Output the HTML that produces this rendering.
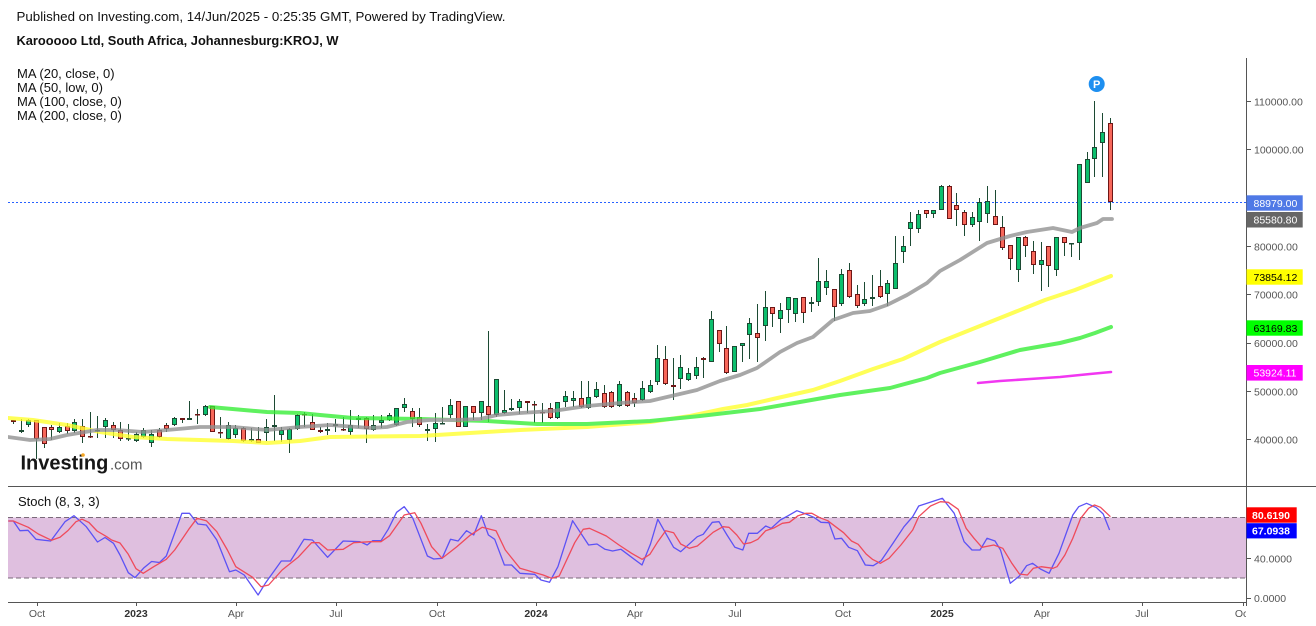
<!DOCTYPE html>
<html><head><meta charset="utf-8"><style>
html,body{margin:0;padding:0;background:#fff;}
svg{display:block;font-family:"Liberation Sans",Arial,sans-serif;}
</style></head><body>
<svg width="1316" height="626" viewBox="0 0 1316 626" xmlns="http://www.w3.org/2000/svg">
<rect width="1316" height="626" fill="#fff"/>
<defs>
<clipPath id="mc"><rect x="8" y="58" width="1238" height="428"/></clipPath>
<clipPath id="sc"><rect x="8" y="487" width="1238" height="115"/></clipPath>
<clipPath id="ac"><rect x="1247" y="487" width="69" height="115"/></clipPath>
<clipPath id="xc"><rect x="0" y="600" width="1246" height="26"/></clipPath>
</defs>

<!-- header -->
<text x="16.5" y="21" font-size="13" fill="#111" textLength="489" lengthAdjust="spacingAndGlyphs">Published on Investing.com, 14/Jun/2025 - 0:25:35 GMT, Powered by TradingView.</text>
<text x="16.5" y="45" font-size="13" font-weight="bold" fill="#111" textLength="322" lengthAdjust="spacingAndGlyphs">Karooooo Ltd, South Africa, Johannesburg:KROJ, W</text>
<g font-size="13" fill="#111">
<text x="17" y="78">MA (20, close, 0)</text>
<text x="17" y="92">MA (50, low, 0)</text>
<text x="17" y="106">MA (100, close, 0)</text>
<text x="17" y="120">MA (200, close, 0)</text>
</g>

<!-- main pane -->
<g clip-path="url(#mc)">
<line x1="8" y1="202.5" x2="1246" y2="202.5" stroke="#2962ff" stroke-width="1" stroke-dasharray="2,2"/>

<path fill="none" stroke="#1c4a33" stroke-width="1" d="M13.5 420V424M21.5 419V433M28.5 419V427M36.5 420V459M44.5 427V448M51.5 425V440M59.5 423V433M67.5 423V434M74.5 419V433M82.5 419V443M90.5 412V438M97.5 416V438M105.5 418V438M113.5 422V438M120.5 422V441M128.5 424V441M136.5 432V442M143.5 428V438M151.5 430V447M159.5 428V438M166.5 423V432M174.5 417V426M182.5 418V423M189.5 401V420M197.5 409V424M205.5 405V416M212.5 406V432M220.5 417V438M228.5 422V440M235.5 425V438M243.5 427V442M251.5 428V442M258.5 427V443M266.5 419V441M274.5 395V441M281.5 427V442M289.5 428V453M297.5 414V430M304.5 412V427M312.5 414V430M320.5 427V433M327.5 423V435M335.5 419V432M343.5 417V431M350.5 410V435M358.5 415V428M366.5 417V443M373.5 415V431M381.5 415V428M389.5 413V421M396.5 408V426M404.5 398V412M412.5 408V427M419.5 408V427M427.5 424V441M435.5 413V442M442.5 407V424M450.5 399V418M458.5 401V427M465.5 406V427M473.5 406V420M481.5 401V420M488.5 331V422M496.5 379V417M504.5 390V414M511.5 399V411M519.5 399V414M527.5 401V413M534.5 401V423M542.5 403V423M550.5 403V419M557.5 402V419M565.5 391V407M573.5 391V407M581.5 381V408M588.5 381V409M596.5 382V398M604.5 385V408M611.5 391V408M619.5 381V407M627.5 391V407M634.5 393V407M642.5 381V401M650.5 380V393M657.5 345V385M665.5 346V385M673.5 358V400M680.5 355V389M688.5 368V381M696.5 357V379M703.5 357V378M711.5 311V362M719.5 330V352M726.5 326V374M734.5 346V372M742.5 343V362M749.5 318V359M757.5 304V362M765.5 291V341M772.5 307V327M780.5 303V333M788.5 297V323M795.5 298V322M803.5 297V323M811.5 297V312M818.5 258V306M826.5 270V295M834.5 289V321M841.5 269V306M849.5 263V298M857.5 285V308M864.5 282V306M872.5 275V306M880.5 270V298M887.5 280V306M895.5 236V289M903.5 236V263M910.5 212V246M918.5 210V233M926.5 210V218M933.5 210V218M941.5 185V210M949.5 185V219M956.5 193V226M964.5 210V236M972.5 212V227M979.5 198V241M987.5 186V223M995.5 190V225M1002.5 216V250M1010.5 245V270M1018.5 237V282M1025.5 236V257M1033.5 241V274M1041.5 242V291M1048.5 246V287M1056.5 237V276M1064.5 237V256M1071.5 243V257M1079.5 164V260M1087.5 152V183M1094.5 101V177M1102.5 113V177M1110.5 118V210"/>

<path fill="#0cbf6d" stroke="#1c4a33" stroke-width="1" d="M19.5 430.5h4v1h-4zM26.5 420.5h4v4h-4zM57.5 427.5h4v4h-4zM72.5 422.5h4v8h-4zM95.5 430.5h4v0.5h-4zM103.5 420.5h4v6h-4zM126.5 438.5h4v0.5h-4zM134.5 434.5h4v6h-4zM141.5 430.5h4v6h-4zM149.5 434.5h4v8h-4zM172.5 418.5h4v6h-4zM187.5 418.5h4v1h-4zM203.5 406.5h4v8h-4zM226.5 425.5h4v13h-4zM233.5 428.5h4v6h-4zM249.5 439.5h4v1h-4zM264.5 427.5h4v5h-4zM272.5 425.5h4v1h-4zM279.5 430.5h4v4h-4zM287.5 429.5h4v10h-4zM295.5 415.5h4v13h-4zM325.5 429.5h4v1h-4zM333.5 424.5h4v1h-4zM348.5 425.5h4v6h-4zM356.5 418.5h4v1h-4zM371.5 425.5h4v4h-4zM379.5 420.5h4v2h-4zM387.5 415.5h4v4h-4zM394.5 408.5h4v16h-4zM402.5 404.5h4v3h-4zM425.5 429.5h4v1h-4zM433.5 423.5h4v5h-4zM440.5 423.5h4v0.5h-4zM448.5 405.5h4v9h-4zM463.5 406.5h4v20h-4zM479.5 401.5h4v11h-4zM494.5 379.5h4v35h-4zM502.5 410.5h4v2h-4zM509.5 408.5h4v1h-4zM517.5 401.5h4v6h-4zM555.5 402.5h4v15h-4zM563.5 396.5h4v5h-4zM571.5 398.5h4v2h-4zM586.5 397.5h4v10h-4zM594.5 389.5h4v7h-4zM617.5 384.5h4v21h-4zM640.5 388.5h4v11h-4zM648.5 385.5h4v6h-4zM655.5 358.5h4v23h-4zM678.5 367.5h4v11h-4zM686.5 373.5h4v6h-4zM694.5 367.5h4v8h-4zM709.5 319.5h4v42h-4zM732.5 346.5h4v25h-4zM740.5 343.5h4v2h-4zM747.5 323.5h4v11h-4zM763.5 307.5h4v18h-4zM778.5 310.5h4v8h-4zM786.5 297.5h4v12h-4zM793.5 298.5h4v15h-4zM809.5 302.5h4v1h-4zM816.5 281.5h4v20h-4zM824.5 281.5h4v6h-4zM839.5 274.5h4v29h-4zM862.5 299.5h4v4h-4zM870.5 297.5h4v1h-4zM885.5 283.5h4v10h-4zM893.5 263.5h4v25h-4zM901.5 246.5h4v5h-4zM908.5 222.5h4v6h-4zM916.5 214.5h4v14h-4zM931.5 210.5h4v3h-4zM939.5 186.5h4v23h-4zM970.5 217.5h4v7h-4zM977.5 202.5h4v19h-4zM985.5 201.5h4v12h-4zM1016.5 237.5h4v32h-4zM1039.5 260.5h4v4h-4zM1054.5 237.5h4v32h-4zM1069.5 243.5h4v0.5h-4zM1077.5 164.5h4v78h-4zM1085.5 159.5h4v23h-4zM1092.5 147.5h4v11h-4zM1100.5 132.5h4v10h-4z"/>

<path fill="#f7675a" stroke="#6e1616" stroke-width="1" d="M11.5 420.5h4v1h-4zM34.5 420.5h4v18h-4zM42.5 427.5h4v16h-4zM49.5 427.5h4v2h-4zM65.5 426.5h4v4h-4zM80.5 426.5h4v10h-4zM88.5 436.5h4v0.5h-4zM111.5 425.5h4v4h-4zM118.5 430.5h4v8h-4zM157.5 430.5h4v6h-4zM164.5 425.5h4v3h-4zM180.5 418.5h4v1h-4zM195.5 414.5h4v0.5h-4zM210.5 406.5h4v25h-4zM218.5 432.5h4v0.5h-4zM241.5 428.5h4v12h-4zM256.5 439.5h4v3h-4zM302.5 414.5h4v0.5h-4zM310.5 422.5h4v7h-4zM318.5 430.5h4v1h-4zM341.5 429.5h4v0.5h-4zM364.5 418.5h4v10h-4zM410.5 411.5h4v7h-4zM417.5 417.5h4v7h-4zM456.5 401.5h4v25h-4zM471.5 406.5h4v6h-4zM486.5 406.5h4v8h-4zM525.5 401.5h4v1h-4zM532.5 404.5h4v0.5h-4zM540.5 412.5h4v0.5h-4zM548.5 408.5h4v9h-4zM579.5 398.5h4v8h-4zM602.5 393.5h4v13h-4zM609.5 392.5h4v14h-4zM625.5 392.5h4v13h-4zM632.5 398.5h4v4h-4zM663.5 359.5h4v24h-4zM671.5 385.5h4v1h-4zM701.5 358.5h4v1h-4zM717.5 330.5h4v13h-4zM724.5 348.5h4v24h-4zM755.5 333.5h4v4h-4zM770.5 307.5h4v6h-4zM801.5 297.5h4v15h-4zM832.5 289.5h4v17h-4zM847.5 270.5h4v26h-4zM855.5 294.5h4v11h-4zM878.5 286.5h4v10h-4zM924.5 210.5h4v3h-4zM947.5 186.5h4v32h-4zM954.5 205.5h4v4h-4zM962.5 212.5h4v12h-4zM993.5 216.5h4v8h-4zM1000.5 227.5h4v20h-4zM1008.5 245.5h4v13h-4zM1023.5 237.5h4v8h-4zM1031.5 251.5h4v13h-4zM1046.5 246.5h4v19h-4zM1062.5 237.5h4v5h-4zM1108.5 123.5h4v78h-4z"/>

<g fill="none" stroke-linejoin="round" stroke-linecap="round" opacity="0.78">
<polyline stroke="#ffff2a" stroke-width="4" points="8,418 33,420 67,425 100,432 133,437 167,439 200,440 233,441 267,443 300,441 330,437 420,436 520,430 587,427 650,422 690,416 723,409 747,405 773,399 813,390 840,381 873,369 903,359 940,342 1000,318 1045,300 1075,290 1111,276"/>
<polyline stroke="#33ee33" stroke-width="4" points="210,407 267,412 300,413 320,415 353,418 420,419 487,421 537,424 587,424 650,421 700,416 760,409 800,402 840,395 890,388 927,378 940,373 980,362 1020,350 1060,343 1080,338 1095,333 1111,327"/>
<polyline stroke="#ee00ee" stroke-width="2.6" points="978,383 1000,381 1030,379 1060,377 1090,374 1111,372"/>
<polyline stroke="#8f8f8f" stroke-width="3.8" points="8,437 30,440 50,439 67,435 97,430 117,430 143,432 167,430 200,427 233,427 267,430 300,427 330,425 370,428 387,427 407,422 430,420 453,420 480,419 497,415 520,413 553,411 587,406 620,403 650,401 667,397 697,390 720,381 740,375 757,368 780,352 797,343 813,337 833,320 853,313 870,311 887,305 907,295 927,283 940,271 960,260 987,243 1010,236 1027,232 1053,228 1072,232 1080,228 1097,223 1103,219 1112,219"/>
</g>

<circle cx="1096.7" cy="84" r="8" fill="#1e8ff0"/>
<text x="1096.7" y="88" font-size="11" font-weight="bold" fill="#fff" text-anchor="middle">P</text>
</g>

<!-- Investing logo -->
<text x="20.5" y="469.5" font-size="20" font-weight="bold" fill="#161616">Investing</text>
<text x="110" y="469.5" font-size="15" fill="#555">.com</text>
<circle cx="83" cy="455" r="1.8" fill="#f5a623"/>

<!-- separators / axes -->
<line x1="8" y1="486.5" x2="1316" y2="486.5" stroke="#555" stroke-width="1"/>
<line x1="1246.5" y1="58" x2="1246.5" y2="606" stroke="#555" stroke-width="1"/>
<line x1="8" y1="602.5" x2="1246" y2="602.5" stroke="#555" stroke-width="1"/>

<!-- price axis -->
<path stroke="#555" stroke-width="1" d="M1247 101.5h4M1247 149.5h4M1247 246.5h4M1247 294.5h4M1247 343.5h4M1247 391.5h4M1247 439.5h4M1247 558.5h4M1247 598.5h4"/>
<g font-size="10.5" fill="#555">
<text x="1254" y="105.5">110000.00</text>
<text x="1254" y="153.5">100000.00</text>
<text x="1254" y="250.5">80000.00</text>
<text x="1254" y="298.5">70000.00</text>
<text x="1254" y="347">60000.00</text>
<text x="1254" y="395.5">50000.00</text>
<text x="1254" y="443.5">40000.00</text>
<text x="1254" y="562.5">40.0000</text>
</g>
<g clip-path="url(#ac)"><text x="1254" y="602" font-size="10.5" fill="#555">0.0000</text></g>

<rect x="1246.5" y="195.3" width="56.2" height="15.4" fill="#4f79e6"/>
<text x="1253.5" y="206.8" font-size="10.5" fill="#fff">88979.00</text>
<rect x="1246.5" y="212" width="56.2" height="15.5" fill="#666"/>
<text x="1253.5" y="223.7" font-size="10.5" fill="#fff">85580.80</text>
<rect x="1246.5" y="269.3" width="56.2" height="15.4" fill="#ffff00"/>
<text x="1253.5" y="280.8" font-size="10.5" fill="#000">73854.12</text>
<rect x="1246.5" y="320.3" width="56.2" height="15.4" fill="#00ff00"/>
<text x="1253.5" y="331.8" font-size="10.5" fill="#000">63169.83</text>
<rect x="1246.5" y="365" width="56.2" height="15.6" fill="#ff00ff"/>
<text x="1253.5" y="376.6" font-size="10.5" fill="#fff">53924.11</text>

<!-- stoch pane -->
<text x="18" y="506" font-size="13" fill="#111">Stoch (8, 3, 3)</text>
<rect x="8" y="517.5" width="1238" height="60.5" fill="#dfbfdf"/>
<line x1="8" y1="517.5" x2="1246" y2="517.5" stroke="#7a6a7a" stroke-width="1" stroke-dasharray="5,3"/>
<line x1="8" y1="578" x2="1246" y2="578" stroke="#7a6a7a" stroke-width="1" stroke-dasharray="5,3"/>
<g clip-path="url(#sc)" fill="none" stroke-width="1.3" stroke-linejoin="round">
<polyline stroke="#5c52f5" points="8.3,521 13.3,521 20,530.7 28,530.3 36,539.3 50.7,541 65,521.7 74,515.7 86.3,526.7 97.5,542 105,537.5 113.5,543.3 120,555 128.3,572.7 135,577.7 144,567.7 151.6,561.5 159.5,562.5 166.3,556 181.9,513.3 189.5,513.3 197.9,524 206.3,525 216.8,540 229.5,571.7 235.8,570 244.2,575 258.1,595 265.3,583.3 281.3,561 290.5,561 304,539.3 312.4,540 327.6,557.3 343.2,541 360,541.7 367.2,545 372.6,540.7 381,540.7 388.2,529.3 396.6,512.3 404.2,506.7 412.6,517.7 427.4,556 433.7,559 442.1,558.3 450.5,539.3 458.1,541 466.5,530.7 473.7,535 481.3,515.7 488.4,535 494.7,539.3 504.4,565 511.6,565 520,573.3 534.7,574.3 541,580 549.5,582.3 557.9,566.7 572.6,520.7 588.6,545 597,544 605,549.3 612.6,551 621,549.3 642,565 650.5,544 657.8,519.3 673.6,547.3 680.7,551.7 697.3,536.7 703.2,534.3 712.3,522.3 719,521.7 727,535 734.9,547.3 742.8,550 748.7,533.3 757.4,533.3 765.7,526 771.2,528.3 780.3,520 788.2,515.7 796.9,510.7 806,514 813.9,517.3 821,522.3 828.9,522.7 834.9,539 841.6,538.3 848.7,547.3 857.4,550.7 865.3,565 873.2,565.7 881.1,560.7 893,543.3 904,526.7 912.7,516.7 918.7,506 942.4,498.3 954.2,513.3 964.1,541.7 972,550 980,550 987,538.3 995,541 1000.5,550 1010.3,583.3 1019.4,576 1026.6,565.7 1032.5,563.3 1040.4,569 1049.1,573.3 1059,553.3 1072.8,515 1078.7,506.7 1086.6,503.3 1096.5,507.7 1103.2,514 1109.6,530"/>
<polyline stroke="#ef4b5c" points="8.3,521 13.3,521 28.3,527.3 38.3,534 51.5,540.3 60,537.3 68,530.5 76,521.7 82,519.2 89,522.5 97,531 106.7,536.7 111.6,540 120,543 128.3,554.3 136,568.7 143.2,573.3 153.7,566.7 166.3,559.3 174.7,550 189.5,528.3 197,518.3 206.3,520.7 216.8,531.7 227.4,550 235.8,566.7 252.6,577.3 261,586.7 268.6,585 282.1,570 298.1,557.3 311.6,542.7 319.2,542.7 327.6,550 343.2,549.3 353.7,542.7 370.5,541.7 381,541.7 389.5,535.7 404.2,515 414.7,512.7 421,523.3 431.6,546.7 442.1,558.3 456.8,546.7 469.5,535.7 482.1,527.3 496,530.7 505.3,550 520,568.3 543.2,575 551.6,578.3 559.2,576 574.7,542.7 583.2,529.3 589.5,528.3 606.3,536 619,545 631.6,553.3 642.1,559.3 649.9,554.3 657.8,541.7 665.7,530.7 673.6,532.7 680.7,544 689.4,548.3 697.3,546 705.2,539.3 713.1,532.3 723,526.7 729,527.3 736.8,535 743.6,544 750.7,542.7 757.8,539.3 765.7,530.7 774.4,527.7 782.3,523.3 789.4,522.3 798.1,515.7 806,513.3 811.9,513.3 819.8,517.7 827.7,520.7 835.6,526.7 843.6,532.7 851.5,541 858.2,544.3 866.1,554 872.4,559.3 880.3,563.3 889,558.3 900.9,545 912.7,530 918.7,516.7 930.5,506 940.4,501.7 948.3,502.3 958.2,509.3 966.1,528.3 974,538.3 981.9,547.3 993.8,545 1002.8,548.3 1011.5,562.7 1019.4,574 1027.4,575 1033.3,568.3 1041.2,566.7 1053,568.3 1057,566.7 1064.9,555 1072.8,538.3 1080.7,518.3 1088.6,508.3 1094.5,505 1100.5,507.3 1110.4,516.7"/>
</g>

<rect x="1246.5" y="507.3" width="50.2" height="15.4" fill="#ff0000"/>
<text x="1252" y="518.8" font-size="10.5" font-weight="bold" fill="#fff">80.6190</text>
<rect x="1246.5" y="523.2" width="50.2" height="15.2" fill="#0000ff"/>
<text x="1252" y="534.7" font-size="10.5" font-weight="bold" fill="#fff">67.0938</text>

<!-- x axis -->
<path stroke="#555" stroke-width="1" d="M37.5 602V606M136.5 602V606M236.5 602V606M336.5 602V606M437.5 602V606M536.5 602V606M635.5 602V606M735.5 602V606M843.5 602V606M942.5 602V606M1042.5 602V606M1142.5 602V606M1243.5 602V606"/>
<g clip-path="url(#xc)" font-size="10.5" fill="#555" text-anchor="middle">
<text x="37" y="617">Oct</text>
<text x="136" y="617" font-weight="bold" fill="#333">2023</text>
<text x="236" y="617">Apr</text>
<text x="336" y="617">Jul</text>
<text x="437" y="617">Oct</text>
<text x="536" y="617" font-weight="bold" fill="#333">2024</text>
<text x="635" y="617">Apr</text>
<text x="735" y="617">Jul</text>
<text x="843" y="617">Oct</text>
<text x="942" y="617" font-weight="bold" fill="#333">2025</text>
<text x="1042" y="617">Apr</text>
<text x="1142" y="617">Jul</text>
<text x="1243" y="617">Oct</text>
</g>
</svg>
</body></html>
